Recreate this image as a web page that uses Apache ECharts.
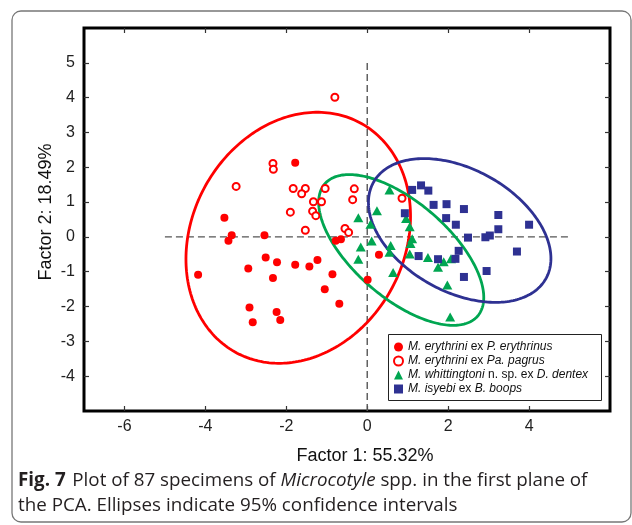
<!DOCTYPE html>
<html>
<head>
<meta charset="utf-8">
<script src="https://cdn.jsdelivr.net/npm/echarts@6/dist/echarts.min.js"></script>
<style>
html,body{margin:0;padding:0;background:#fff;}
#c{width:632px;height:525px;}
</style>
</head>
<body>
<div id="c"></div>
<script>
// ---------- data ----------
const speciesNames = [
  'M. erythrini ex P. erythrinus',
  'M. erythrini ex Pa. pagrus',
  'M. whittingtoni n. sp. ex D. dentex',
  'M. isyebi ex B. boops'
];
const legendRich = [
  '{i|M. erythrini} {n|ex} {i|P. erythrinus}',
  '{i|M. erythrini} {n|ex} {i|Pa. pagrus}',
  '{i|M. whittingtoni} {n|n. sp. ex} {i|D. dentex}',
  '{i|M. isyebi} {n|ex} {i|B. boops}'
];
const xTicks = [-6, -4, -2, 0, 2, 4];
const yTicks = [-4, -3, -2, -1, 0, 1, 2, 3, 4, 5];

const erythrinusPts = [
  [-1.78, 2.13], [-3.53, 0.55], [-3.35, 0.05], [-3.43, -0.11], [-2.54, 0.05],
  [-4.18, -1.09], [-2.94, -0.91], [-2.51, -0.59], [-2.23, -0.73], [-2.33, -1.18],
  [-1.78, -0.80], [-1.43, -0.85], [-1.23, -0.66], [-0.86, -1.07], [-1.05, -1.50],
  [-0.69, -1.92], [-2.91, -2.03], [-2.24, -2.16], [-2.83, -2.45], [-2.15, -2.39],
  [-0.78, -0.11], [-0.65, -0.07], [0.01, -1.23], [0.29, -0.51]
];
const pagrusPts = [
  [-0.80, 4.01], [-2.33, 2.11], [-2.32, 1.94], [-3.24, 1.45], [-1.83, 1.39],
  [-1.53, 1.39], [-1.62, 1.24], [-1.04, 1.39], [-0.32, 1.38], [-0.36, 1.07],
  [-1.33, 1.01], [-1.13, 1.01], [-1.90, 0.71], [-1.35, 0.74], [-1.27, 0.61],
  [-1.53, 0.19], [-0.55, 0.24], [-0.46, 0.13], [0.86, 1.11]
];
const dentexPts = [
  [0.55, 1.35], [-0.22, 0.55], [0.24, 0.75], [0.08, 0.36], [0.96, 0.53],
  [1.05, 0.29], [0.11, -0.12], [-0.16, -0.29], [-0.22, -0.64], [0.58, -0.25],
  [0.55, -0.44], [1.11, -0.05], [1.07, -0.19], [1.05, -0.49], [1.50, -0.59],
  [1.75, -0.87], [1.89, -0.71], [2.07, -0.63], [0.64, -1.02], [1.98, -1.38],
  [2.05, -2.30]
];
const boopsPts = [
  [1.11, 1.35], [1.33, 1.48], [1.51, 1.33], [1.64, 0.92], [1.96, 0.94],
  [2.39, 0.80], [0.93, 0.68], [1.95, 0.54], [2.19, 0.35], [3.24, 0.63],
  [4.00, 0.35], [3.24, 0.22], [3.03, 0.04], [2.92, -0.01], [2.49, -0.02],
  [2.26, -0.40], [2.18, -0.63], [1.27, -0.55], [1.75, -0.64], [3.70, -0.42],
  [2.95, -0.98], [2.39, -1.15]
];
// 95% confidence ellipses: [centreX, centreY, halfWidthX, halfHeightY, correlation]
const erythrinusEllipse = [-1.705, -0.025, 2.775, 3.605, 0.17];
const dentexEllipse = [0.84, -0.375, 2.04, 2.165, -0.63];
const boopsEllipse = [2.285, 0.185, 2.255, 2.065, -0.39];
// dashed reference axes
const refHorizontal = [[-5, 0], [5, 0]];
const refVertical = [[0, -5], [0, 5]];

// ---------- chart ----------
const RED = '#ff0000', GREEN = '#00a651', BLUE = '#2e3192';
const AX_FONT = '"Liberation Sans", Arial, sans-serif';
const CAP_FONT = '"Open Sans", "Noto Sans", sans-serif';

function ellipseSeries(params, color) {
  return {
    type: 'custom',
    silent: true,
    z: 2,
    data: [params],
    encode: { x: 0, y: 1 },
    renderItem: function (p, api) {
      const cx = api.value(0), cy = api.value(1), sx = api.value(2), sy = api.value(3), r = api.value(4);
      const k = Math.sqrt(1 - r * r);
      const pts = [];
      for (let i = 0; i < 240; i++) {
        const t = i / 240 * Math.PI * 2;
        pts.push(api.coord([cx + sx * Math.cos(t), cy + sy * (r * Math.cos(t) + k * Math.sin(t))]));
      }
      return { type: 'polygon', shape: { points: pts }, style: { fill: 'none', stroke: color, lineWidth: 2.8 } };
    }
  };
}
function refLine(data) {
  return {
    type: 'line', data: data, symbol: 'none', silent: true, z: 1,
    lineStyle: { color: '#555', width: 1.4, type: [7, 4] }
  };
}

const chart = echarts.init(document.getElementById('c'), null, { renderer: 'canvas' });
const tickStyle = { inside: true, length: 5, lineStyle: { color: '#333', width: 1.2 } };
const hiddenLine = { show: false, onZero: false };
const option = {
  animation: false,
  backgroundColor: '#fff',
  grid: {
    left: 84, top: 28, width: 526, height: 383,
    show: true, borderColor: '#000', borderWidth: 3, backgroundColor: 'transparent',
    outerBoundsMode: 'none'
  },
  xAxis: [
    {
      type: 'value', min: -7, max: 6, interval: 1, position: 'bottom',
      axisLine: hiddenLine,
      axisTick: Object.assign({ customValues: xTicks }, tickStyle),
      axisLabel: { customValues: xTicks, fontSize: 16, color: '#222', fontFamily: AX_FONT, margin: 8 },
      splitLine: { show: false }
    },
    {
      type: 'value', min: -7, max: 6, interval: 1, position: 'top',
      axisLine: hiddenLine,
      axisTick: Object.assign({ customValues: xTicks }, tickStyle),
      axisLabel: { show: false },
      splitLine: { show: false }
    }
  ],
  yAxis: [
    {
      type: 'value', min: -5, max: 6, interval: 1, position: 'left',
      axisLine: hiddenLine,
      axisTick: Object.assign({ customValues: yTicks }, tickStyle),
      axisLabel: { customValues: yTicks, fontSize: 16, color: '#222', fontFamily: AX_FONT, margin: 9 },
      splitLine: { show: false }
    },
    {
      type: 'value', min: -5, max: 6, interval: 1, position: 'right',
      axisLine: hiddenLine,
      axisTick: Object.assign({ customValues: yTicks }, tickStyle),
      axisLabel: { show: false },
      splitLine: { show: false }
    }
  ],
  legend: {
    data: speciesNames,
    orient: 'vertical',
    left: 393, top: 340,
    padding: 0, itemGap: 0,
    itemWidth: 9, itemHeight: 9,
    selectedMode: false,
    z: 20,
    formatter: function (name) { return legendRich[speciesNames.indexOf(name)]; },
    textStyle: {
      fontSize: 12, fontFamily: AX_FONT, color: '#111', lineHeight: 14,
      rich: {
        i: { fontSize: 12, fontFamily: AX_FONT, fontStyle: 'italic', color: '#111', lineHeight: 14 },
        n: { fontSize: 12, fontFamily: AX_FONT, color: '#111', lineHeight: 14 }
      }
    }
  },
  graphic: [
    { type: 'rect', z: 0, silent: true,
      shape: { x: 12, y: 11, width: 619, height: 511, r: 9 },
      style: { fill: 'none', stroke: '#777', lineWidth: 1.3 } },
    { type: 'rect', z: 15, silent: true,
      shape: { x: 388.5, y: 334.5, width: 213, height: 66 },
      style: { fill: '#fff', stroke: '#222', lineWidth: 1 } },
    { type: 'text', z: 20, silent: true, x: 365, y: 456,
      style: { text: 'Factor 1: 55.32%', font: '18px ' + AX_FONT, fill: '#111', align: 'center', verticalAlign: 'middle' } },
    { type: 'text', z: 20, silent: true, x: 46, y: 212, rotation: Math.PI / 2,
      style: { text: 'Factor 2: 18.49%', font: '18px ' + AX_FONT, fill: '#111', align: 'center', verticalAlign: 'middle' } },
    { type: 'text', z: 20, silent: true, x: 18, y: 481,
      style: {
        text: '{b|Fig. 7}  {n|Plot of 87 specimens of }{i|Microcotyle}{n| spp. in the first plane of}',
        verticalAlign: 'middle', fill: '#231f20',
        rich: {
          b: { fontSize: 18.8, fontFamily: CAP_FONT, fontWeight: 'bold', fill: '#231f20' },
          n: { fontSize: 18.8, fontFamily: CAP_FONT, fill: '#231f20' },
          i: { fontSize: 18.8, fontFamily: CAP_FONT, fontStyle: 'italic', fill: '#231f20' }
        }
      } },
    { type: 'text', z: 20, silent: true, x: 18, y: 506,
      style: { text: 'the PCA. Ellipses indicate 95% confidence intervals', font: '18.8px ' + CAP_FONT, fill: '#231f20', verticalAlign: 'middle' } }
  ],
  series: [
    refLine(refHorizontal),
    refLine(refVertical),
    ellipseSeries(erythrinusEllipse, RED),
    ellipseSeries(dentexEllipse, GREEN),
    ellipseSeries(boopsEllipse, BLUE),
    {
      name: speciesNames[0], type: 'scatter', data: erythrinusPts, z: 3,
      symbol: 'circle', symbolSize: 8, itemStyle: { color: RED, opacity: 1 }
    },
    {
      name: speciesNames[1], type: 'scatter', data: pagrusPts, z: 3,
      symbol: 'circle', symbolSize: 7,
      itemStyle: { color: '#fff', borderColor: RED, borderWidth: 2, opacity: 1 }
    },
    {
      name: speciesNames[2], type: 'scatter', data: dentexPts, z: 3,
      symbol: 'triangle', symbolSize: [10, 9], itemStyle: { color: GREEN, opacity: 1 }
    },
    {
      name: speciesNames[3], type: 'scatter', data: boopsPts, z: 3,
      symbol: 'rect', symbolSize: 8, itemStyle: { color: BLUE, opacity: 1 }
    }
  ]
};
chart.setOption(option);
</script>
</body>
</html>
